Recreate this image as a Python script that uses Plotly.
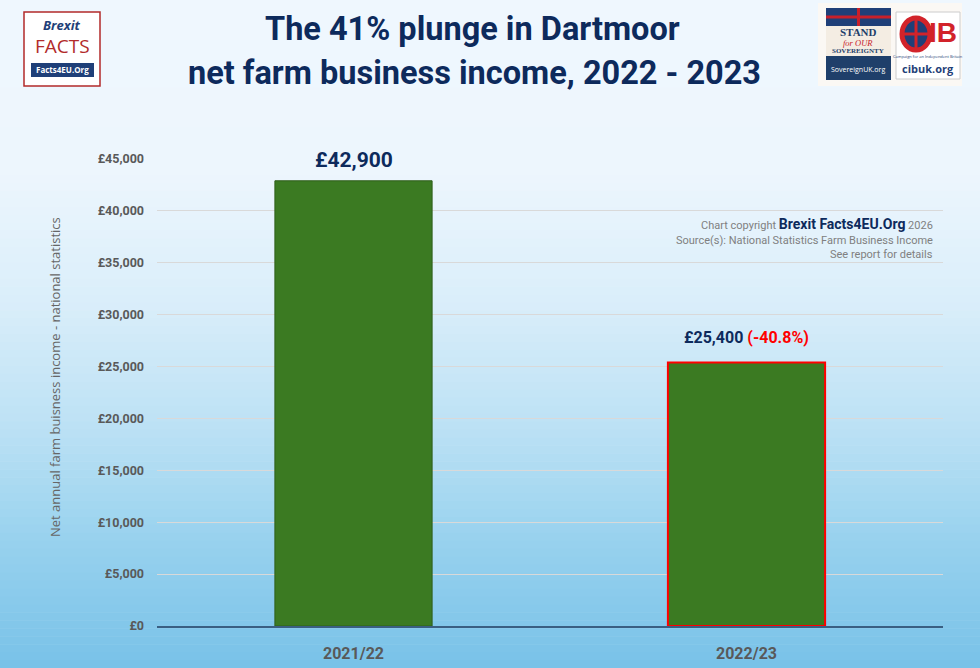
import plotly.graph_objects as go

# ---- data ----
categories = ["2021/22", "2022/23"]
values = [42900, 25400]
value_labels = ["£42,900", "£25,400"]
change_label = "(-40.8%)"
y_ticks = [0, 5000, 10000, 15000, 20000, 25000, 30000, 35000, 40000, 45000]
y_tick_text = ["£0", "£5,000", "£10,000", "£15,000", "£20,000", "£25,000",
               "£30,000", "£35,000", "£40,000", "£45,000"]

W, H = 980, 668
L, R, T, B = 157, 943, 159, 626

def px(x):
    return (x - L) / (R - L)

def py(y):
    return (B - y) / (B - T)

NAVY = "#0d2a5c"
GREEN = "#3b7a22"

fig = go.Figure()
fig.add_trace(go.Bar(
    x=categories, y=values,
    marker=dict(color=GREEN,
                line=dict(color=["#2e5e1a", "#ff0000"], width=[1, 2])),
    width=0.4, hoverinfo="skip",
))

shapes = []
# background gradient
def lerp(c1, c2, t):
    return tuple(round(a + (b - a) * t) for a, b in zip(c1, c2))

stops = [(0, (239, 247, 254)), (170, (237, 246, 253)), (300, (218, 238, 250)),
         (420, (190, 226, 245)), (540, (152, 210, 238)), (668, (120, 194, 232))]
n = 84
for i in range(n):
    y0 = H * i / n
    y1 = H * (i + 1) / n
    ym = (y0 + y1) / 2
    for j in range(len(stops) - 1):
        if stops[j][0] <= ym <= stops[j + 1][0]:
            t = (ym - stops[j][0]) / (stops[j + 1][0] - stops[j][0])
            c = lerp(stops[j][1], stops[j + 1][1], t)
            break
    shapes.append(dict(type="rect", xref="paper", yref="paper", layer="below",
                       x0=px(0), x1=px(W), y0=py(y1 + 0.5), y1=py(y0),
                       fillcolor="rgb(%d,%d,%d)" % c, line=dict(width=0)))

def rect(x0, y0, x1, y1, fill, line_color=None, lw=0):
    return dict(type="rect", xref="paper", yref="paper", x0=px(x0), x1=px(x1), y0=py(y1), y1=py(y0),
                fillcolor=fill, line=dict(color=line_color or fill, width=lw))

# left logo
shapes += [
    rect(24, 12, 100, 86, "white", "#b22a2a", 1.5),
    rect(31, 63, 94, 77, "#1f3f78"),
    # right logos box
    rect(818, 3, 962, 86, "#fbf8f4"),
    rect(826, 8, 891, 80, "#f4ede3"),
    rect(826, 8, 891, 26, "#1f3f78"),
    dict(type="line", xref="paper", yref="paper", x0=px(826), x1=px(891), y0=py(17), y1=py(17),
         line=dict(color="#c8202a", width=3)),
    dict(type="line", xref="paper", yref="paper", x0=px(858.5), x1=px(858.5), y0=py(26), y1=py(8),
         line=dict(color="#c8202a", width=3)),
    rect(826, 56, 891, 80, "#1f3f6a"),
    rect(896, 12, 960, 79, "white", "#cccccc", 1),
    dict(type="circle", xref="paper", yref="paper", x0=px(902), x1=px(930), y0=py(50), y1=py(18),
         fillcolor="#1f3f78", line=dict(color="#d2232a", width=5)),
    dict(type="line", xref="paper", yref="paper", x0=px(904), x1=px(928), y0=py(34), y1=py(34),
         line=dict(color="#d2232a", width=3)),
    dict(type="line", xref="paper", yref="paper", x0=px(916), x1=px(916), y0=py(48), y1=py(20),
         line=dict(color="#d2232a", width=3)),
]

def ann(text, x, y, size, color, family="Open Sans", **kw):
    d = dict(text=text, x=px(x), y=py(y), xref="paper", yref="paper", showarrow=False,
             xanchor=kw.pop("xanchor", "center"), yanchor=kw.pop("yanchor", "middle"),
             font=dict(family=family, size=size, color=color))
    d.update(kw)
    return d

annotations = [
    ann("<b>The 41% plunge in Dartmoor</b>", 472, 29, 32.5, NAVY, "Roboto"),
    ann("<b>net farm business income, 2022 - 2023</b>", 474, 73, 32.5, NAVY, "Roboto"),
    # left logo text
    ann("<b><i>Brexit</i></b>", 62, 25, 13, "#1f3f78"),
    ann("FACTS", 62, 46, 19, "#b22a2a"),
    ann("<b>Facts4EU.Org</b>", 62, 70, 8, "white"),
    # stand logo
    ann("<b>STAND</b>", 858, 32, 11, "#1f3f6a", "Liberation Serif"),
    ann("<i>for OUR</i>", 858, 43, 8.5, "#c8202a", "Liberation Serif"),
    ann("<b>SOVEREIGNTY</b>", 858, 51, 7, "#1f3f6a", "Liberation Serif"),
    ann("SovereignUK.org", 858, 70, 7, "white"),
    # cib logo
    ann("<b>IB</b>", 943, 33, 28, "#d2232a", "Liberation Sans"),
    ann("Campaign for an Independent Britain", 928, 57, 4, "#1f3f78"),
    ann("<b>cibuk.org</b>", 928, 68, 11, "#1f3f78"),
    # copyright note
    ann("Chart copyright <span style='font-size:14px;color:%s'><b>Brexit Facts4EU.Org</b></span> 2026" % NAVY,
        935, 224, 11, "#808080", "Roboto", xanchor="right"),
    ann("Source(s): National Statistics Farm Business Income", 935, 240, 11, "#808080", "Roboto",
        xanchor="right"),
    ann("See report for details", 935, 254, 11, "#808080", "Roboto", xanchor="right"),
    # y axis title
    ann("Net annual farm buisness income - national statistics", 55, 377, 13, "#666666", textangle=-90),
    # bar labels
    dict(text="<b>%s</b>" % value_labels[0], x=categories[0], y=values[0], yshift=21, showarrow=False,
         xanchor="center", yanchor="middle", font=dict(family="Roboto", size=21, color=NAVY)),
    dict(text="<b>%s <span style='color:#ff0000'>%s</span></b>" % (value_labels[1], change_label),
         x=categories[1], y=values[1], yshift=25, showarrow=False,
         xanchor="center", yanchor="middle", font=dict(family="Roboto", size=16, color=NAVY)),
]

fig.update_layout(
    width=W, height=H,
    margin=dict(l=L, r=W - R, t=T, b=H - B, autoexpand=False),
    paper_bgcolor="#eef6fd", plot_bgcolor="rgba(0,0,0,0)",
    showlegend=False, bargap=0.6,
    shapes=shapes, annotations=annotations,
    xaxis=dict(tickfont=dict(family="Roboto", size=16, color="#595959"), automargin=False,
               showgrid=False, ticks="", showline=True, linecolor="#3a5f82", linewidth=2,
               ticklabelstandoff=12,
               tickvals=categories, ticktext=["<b>%s</b>" % c for c in categories]),
    yaxis=dict(range=[0, 45000], tickvals=y_ticks, ticktext=["<b>%s</b>" % t for t in y_tick_text],
               tickfont=dict(family="Roboto", size=12.5, color="#595959"), automargin=False,
               showgrid=True, gridcolor="#d9d9d9", gridwidth=1, zeroline=False,
               ticks="", ticklabelstandoff=12),
)

fig.write_html("out.html")
